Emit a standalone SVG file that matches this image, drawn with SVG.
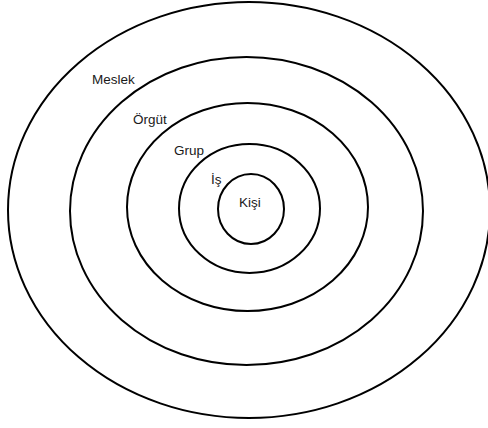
<svg xmlns="http://www.w3.org/2000/svg" width="488" height="428" viewBox="0 0 488 428">
<style>
.ring{fill:none;stroke:#000;stroke-width:2}
.lbl{font-family:"Liberation Sans","Open Sans",sans-serif;font-size:13.5px;fill:#1a1a1a}
</style>
<rect width="488" height="428" fill="#fff"/>
<g id="meslek"><ellipse class="ring" cx="249" cy="210" rx="241" ry="208"/><text class="lbl" x="92" y="84">Meslek</text></g>
<g id="orgut"><ellipse class="ring" cx="246.5" cy="211" rx="176.5" ry="154"/><text class="lbl" x="133" y="124">Örgüt</text></g>
<g id="grup"><ellipse class="ring" cx="247.5" cy="207" rx="120.5" ry="104"/><text class="lbl" x="174" y="155">Grup</text></g>
<g id="is"><ellipse class="ring" cx="249.5" cy="208.5" rx="70.5" ry="64.5"/><text class="lbl" x="211" y="184">İş</text></g>
<g id="kisi"><ellipse class="ring" cx="251" cy="209" rx="33" ry="35"/><text class="lbl" x="239" y="207">Kişi</text></g>
<g id="connectors"/>
</svg>
